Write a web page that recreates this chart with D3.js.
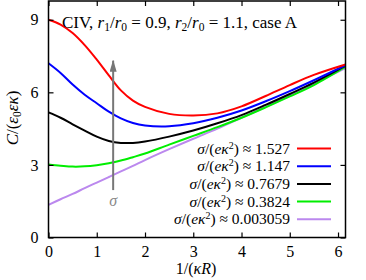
<!DOCTYPE html>
<html>
<head>
<meta charset="utf-8">
<script src="https://cdn.jsdelivr.net/npm/d3@7"></script>
<style>
  body { margin: 0; background: #fff; }
  svg text { font-family: "Liberation Serif", "DejaVu Serif", serif; fill: #000; }
</style>
</head>
<body>
<svg id="chart" width="366" height="280"></svg>
<script>
// values
const xValues = [0, 0.25, 0.5, 0.75, 1.0, 1.25, 1.5, 1.75, 2.0, 2.5, 3.0, 3.5, 4.0, 4.5, 5.0, 5.5, 6.155]
const redValues    = [9.0, 8.8, 8.45, 7.95, 7.35, 6.7, 6.08, 5.66, 5.4, 5.11, 5.04, 5.13, 5.42, 5.85, 6.3, 6.72, 7.15]
const blueValues   = [7.2, 6.8, 6.32, 5.9, 5.55, 5.2, 4.92, 4.73, 4.63, 4.6, 4.72, 4.95, 5.25, 5.63, 6.05, 6.5, 7.12]
const blackValues  = [5.17, 4.95, 4.68, 4.42, 4.17, 3.99, 3.91, 3.91, 3.97, 4.17, 4.42, 4.72, 5.06, 5.48, 5.93, 6.4, 7.1]
const greenValues  = [3.02, 2.97, 2.93, 2.94, 2.99, 3.07, 3.18, 3.32, 3.47, 3.84, 4.2, 4.56, 4.95, 5.38, 5.83, 6.3, 7.06]
const purpleValues = [1.35, 1.58, 1.8, 2.04, 2.27, 2.5, 2.73, 2.96, 3.2, 3.65, 4.08, 4.5, 4.95, 5.4, 5.85, 6.35, 7.0]

const sigmaLabels = ["1.527", "1.147", "0.7679", "0.3824", "0.003059"]
const seriesColors = ["#ff0000", "#0000ff", "#000000", "#00ee00", "#bb88ee"]
const seriesValues = [redValues, blueValues, blackValues, greenValues, purpleValues]

const xTicks = [0, 1, 2, 3, 4, 5, 6]
const yTicks = [0, 3, 6, 9]

// the grey sigma arrow, in data units
const arrowX = 1.34
const arrowFrom = 1.96
const arrowTo = 7.39

var svg = d3.select("#chart");
const margins = {top: 1, right: 20.5, bottom: 42.5, left: 48.5}
const width = 366, height = 280

var xScale = d3.scaleLinear()
    .domain([0, 6.155])
    .range([margins.left, width - margins.right]);

var yScale = d3.scaleLinear()
    .domain([0, 9.775])
    .range([height - margins.bottom, margins.top]);

svg.append("defs").append("marker")
    .attr("id", "arrowhead")
    .attr("viewBox", "0 0 12 7")
    .attr("refX", 11).attr("refY", 3.5)
    .attr("markerWidth", 12).attr("markerHeight", 7)
    .attr("markerUnits", "userSpaceOnUse")
    .attr("orient", "auto")
    .append("path")
    .attr("d", "M0,0 L12,3.5 L0,7 Z")
    .attr("fill", "#777");

// curves
var line = d3.line()
    .x((d, i) => xScale(xValues[i]))
    .y(d => yScale(d))
    .curve(d3.curveCatmullRom.alpha(0.5));

var curveGroup = svg.append("g").attr("class", "curves");
// draw the lowest series first so red ends on top
seriesValues.slice().reverse().forEach(function(values, index) {
    var i = seriesValues.length - 1 - index
    curveGroup.append("path")
        .datum(values)
        .attr("fill", "none")
        .attr("stroke", seriesColors[i])
        .attr("stroke-width", 2)
        .attr("d", line);
});

// sigma arrow
svg.append("line")
    .attr("x1", xScale(arrowX)).attr("x2", xScale(arrowX))
    .attr("y1", yScale(arrowFrom)).attr("y2", yScale(arrowTo) + 2)
    .attr("stroke", "#777")
    .attr("stroke-width", 2)
    .attr("marker-end", "url(#arrowhead)");

svg.append("text")
    .attr("x", xScale(arrowX))
    .attr("y", yScale(arrowFrom) + 16)
    .attr("text-anchor", "middle")
    .attr("font-size", 16)
    .attr("font-style", "italic")
    .style("fill", "#888")
    .text("σ");

// axes with inward ticks on all four sides
var bottomAxis = d3.axisBottom(xScale).tickValues(xTicks).tickSize(-5).tickPadding(8).tickFormat(d3.format("d"));
var topAxis = d3.axisTop(xScale).tickValues(xTicks).tickSize(-5).tickFormat("");
var leftAxis = d3.axisLeft(yScale).tickValues(yTicks).tickSize(-5).tickPadding(10).tickFormat(d3.format("d"));
var rightAxis = d3.axisRight(yScale).tickValues(yTicks).tickSize(-5).tickFormat("");

function styleAxis(g) {
    g.attr("font-family", null);
    g.select(".domain").remove();
    g.selectAll(".tick line").attr("stroke", "#000").attr("stroke-width", 1.2);
    g.selectAll(".tick text").attr("font-size", 16);
}

svg.append("g").attr("transform", "translate(0," + (height - margins.bottom) + ")").call(bottomAxis).call(styleAxis);
svg.append("g").attr("transform", "translate(0," + margins.top + ")").call(topAxis).call(styleAxis);
svg.append("g").attr("transform", "translate(" + margins.left + ",0)").call(leftAxis).call(styleAxis);
svg.append("g").attr("transform", "translate(" + (width - margins.right) + ",0)").call(rightAxis).call(styleAxis);

svg.append("rect")
    .attr("x", margins.left).attr("y", margins.top)
    .attr("width", width - margins.left - margins.right)
    .attr("height", height - margins.top - margins.bottom)
    .attr("fill", "none")
    .attr("stroke", "#000")
    .attr("stroke-width", 1.5);

// title
var title = svg.append("text")
    .attr("x", 62).attr("y", 28)
    .attr("font-size", 17);
title.append("tspan").text("CIV, ");
title.append("tspan").attr("font-style", "italic").text("r");
title.append("tspan").attr("font-size", 11.5).attr("dy", 3).text("1");
title.append("tspan").attr("dy", -3).text("/");
title.append("tspan").attr("font-style", "italic").text("r");
title.append("tspan").attr("font-size", 11.5).attr("dy", 3).text("0");
title.append("tspan").attr("dy", -3).text(" = 0.9, ");
title.append("tspan").attr("font-style", "italic").text("r");
title.append("tspan").attr("font-size", 11.5).attr("dy", 3).text("2");
title.append("tspan").attr("dy", -3).text("/");
title.append("tspan").attr("font-style", "italic").text("r");
title.append("tspan").attr("font-size", 11.5).attr("dy", 3).text("0");
title.append("tspan").attr("dy", -3).text(" = 1.1, case A");

// legend
var legend = svg.append("g").attr("class", "legend");
sigmaLabels.forEach(function(label, i) {
    var y = 148.5 + i * 17.7
    legend.append("line")
        .attr("x1", 297).attr("x2", 331)
        .attr("y1", y).attr("y2", y)
        .attr("stroke", seriesColors[i])
        .attr("stroke-width", 2);
    var t = legend.append("text")
        .attr("x", 290).attr("y", y + 5)
        .attr("text-anchor", "end")
        .attr("font-size", 15.5);
    t.append("tspan").attr("font-style", "italic").text("σ");
    t.append("tspan").text("/(");
    t.append("tspan").attr("font-style", "italic").text("eκ");
    t.append("tspan").attr("font-size", 10).attr("dy", -5).text("2");
    t.append("tspan").attr("dy", 5).text(") ≈ " + label);
});

// axis titles
var xLabel = svg.append("text")
    .attr("x", 196).attr("y", 274)
    .attr("text-anchor", "middle")
    .attr("font-size", 16);
xLabel.append("tspan").text("1/(");
xLabel.append("tspan").attr("font-style", "italic").text("κR");
xLabel.append("tspan").text(")");

var yLabel = svg.append("text")
    .attr("transform", "translate(18," + 118 + ") rotate(-90)")
    .attr("text-anchor", "middle")
    .attr("font-size", 17);
yLabel.append("tspan").attr("font-style", "italic").text("C");
yLabel.append("tspan").text("/(");
yLabel.append("tspan").attr("font-style", "italic").text("ε");
yLabel.append("tspan").attr("font-size", 11.5).attr("dy", 3).text("0");
yLabel.append("tspan").attr("font-style", "italic").attr("dy", -3).text("εκ");
yLabel.append("tspan").text(")");
</script>
</body>
</html>
